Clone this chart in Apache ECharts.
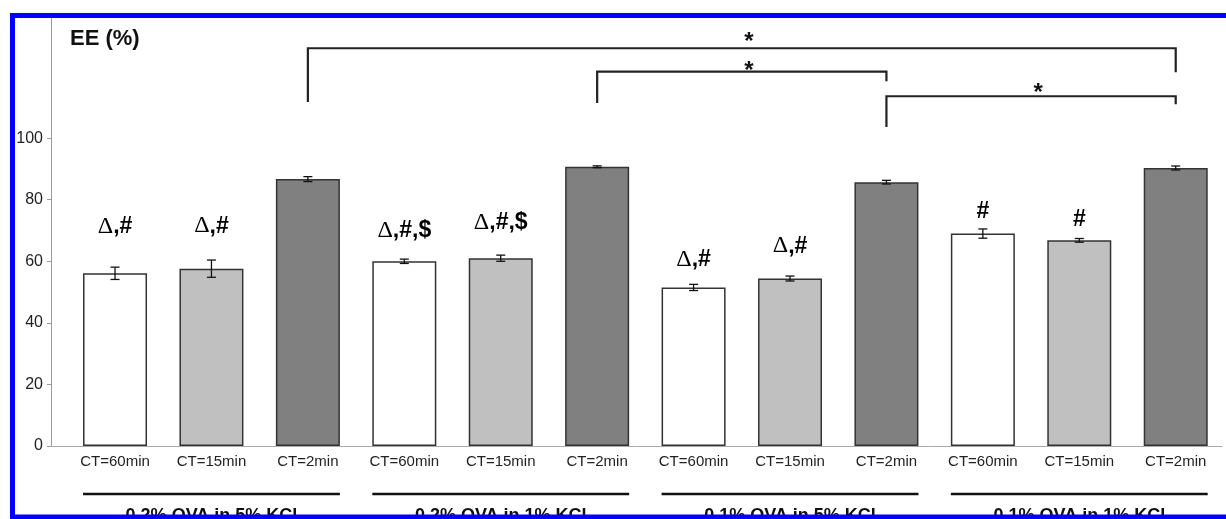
<!DOCTYPE html>
<html>
<head>
<meta charset="utf-8">
<script src="https://cdn.jsdelivr.net/npm/echarts@6/dist/echarts.min.js"></script>
<style>
html,body{margin:0;padding:0;background:#fff;}
#chart{width:1226px;height:519px;}
</style>
</head>
<body>
<div id="chart"></div>
<script>
// ---- data ----
const categories = ['CT=60min','CT=15min','CT=2min','CT=60min','CT=15min','CT=2min','CT=60min','CT=15min','CT=2min','CT=60min','CT=15min','CT=2min'];
const groups = ['0.2% OVA in 5% KCl','0.2% OVA in 1% KCl','0.1% OVA in 5% KCl','0.1% OVA in 1% KCl'];
const values = [56.1, 57.6, 86.7, 60.0, 61.0, 90.7, 51.5, 54.4, 85.7, 69.0, 66.8, 90.3];
const errors = [2.0, 2.8, 0.8, 0.7, 1.0, 0.3, 1.0, 0.8, 0.6, 1.5, 0.6, 0.65];
const annotations = ['Δ,#','Δ,#','','Δ,#,$','Δ,#,$','','Δ,#','Δ,#','','#','#',''];
const annotationY = [71.1, 71.4, null, 69.8, 72.4, null, 60.4, 64.9, null, 76.0, 73.4, null];
const yTicks = [0, 20, 40, 60, 80, 100];
// significance brackets
const bracketFrom = [2, 5, 8];
const bracketTo = [11, 8, 11];
const bracketLine = [129.2, 121.6, 113.6];
const bracketLeftEnd = [111.7, 111.4, 103.6];
const bracketRightEnd = [121.4, 118.5, 111.0];
const bracketStarY = [133.4, 124.0, 116.9];

const barColors = ['#ffffff', '#c0c0c0', '#808080'];
const FONT = 'Liberation Sans, Arial, sans-serif';

const chart = echarts.init(document.getElementById('chart'), null, {renderer: 'canvas'});

const barData = values.map((v, i) => ({value: [i, v], itemStyle: {color: barColors[i % 3]}}));
const errData = values.map((v, i) => [i, v, errors[i]]);
const annData = [];
annotations.forEach((t, i) => { if (t) annData.push([i, annotationY[i], t]); });
const bracketData = bracketFrom.map((f, k) => [f, bracketTo[k], bracketLine[k], bracketLeftEnd[k], bracketRightEnd[k], bracketStarY[k]]);
const groupData = groups.map((g, k) => [k * 3, k * 3 + 2, g]);

function richFor(t) {
  if (t.indexOf('Δ') === 0) return '{d|Δ}{b|' + t.slice(1) + '}';
  return '{b|' + t + '}';
}

const option = {
  animation: false,
  backgroundColor: '#ffffff',
  title: {
    text: 'EE (%)', left: 65, top: 23,
    textStyle: {fontFamily: FONT, fontSize: 22, fontWeight: 'bold', color: '#111'}
  },
  grid: {left: 51, right: 4, top: 15, bottom: 73},
  xAxis: {
    type: 'value', min: -0.664, max: 11.48,
    axisLine: {show: true, onZero: false, lineStyle: {color: '#aaaaaa', width: 1}},
    axisTick: {show: false},
    splitLine: {show: false},
    axisLabel: {
      customValues: categories.map((c, i) => i),
      formatter: v => categories[Math.round(v)] || '',
      fontFamily: FONT, fontSize: 15, color: '#222', margin: 8
    }
  },
  yAxis: {
    type: 'value', min: 0, max: 140,
    axisLine: {show: true, onZero: false, lineStyle: {color: '#999999', width: 1}},
    axisTick: {show: true, inside: false, length: 4, customValues: yTicks, lineStyle: {color: '#999999'}},
    splitLine: {show: false},
    axisLabel: {customValues: yTicks, fontFamily: FONT, fontSize: 16, color: '#222', margin: 8}
  },
  series: [
    {
      type: 'bar', data: barData, barWidth: 64,
      itemStyle: {borderColor: '#333', borderWidth: 1.5},
      z: 2
    },
    {
      type: 'custom', data: errData, encode: {x: 0, y: 1}, z: 5,
      renderItem: (params, api) => {
        const i = api.value(0), v = api.value(1), e = api.value(2);
        const t = api.coord([i, v + e]), b = api.coord([i, v - e]);
        const hw = 4.5;
        const st = {stroke: '#111', lineWidth: 1.3, fill: null};
        return {type: 'group', children: [
          {type: 'line', shape: {x1: t[0], y1: t[1], x2: b[0], y2: b[1]}, style: st},
          {type: 'line', shape: {x1: t[0] - hw, y1: t[1], x2: t[0] + hw, y2: t[1]}, style: st},
          {type: 'line', shape: {x1: b[0] - hw, y1: b[1], x2: b[0] + hw, y2: b[1]}, style: st}
        ]};
      }
    },
    {
      type: 'custom', data: annData, encode: {x: 0, y: 1}, z: 6,
      renderItem: (params, api) => {
        const p = api.coord([api.value(0), api.value(1)]);
        const t = annData[params.dataIndex][2];
        return {type: 'text', x: p[0], y: p[1], style: {
          text: richFor(t), align: 'center', verticalAlign: 'middle',
          rich: {
            d: {fontFamily: 'Liberation Serif, Times New Roman, serif', fontSize: 24, color: '#111'},
            b: {fontFamily: FONT, fontSize: 23, fontWeight: 'bold', color: '#111'}
          }
        }};
      }
    },
    {
      type: 'custom', data: bracketData, encode: {x: 0, y: 2}, z: 6, clip: false,
      renderItem: (params, api) => {
        const f = api.value(0), t = api.value(1), yl = api.value(2), yle = api.value(3), yre = api.value(4), ys = api.value(5);
        const a = api.coord([f, yle]), b = api.coord([f, yl]), c = api.coord([t, yl]), d = api.coord([t, yre]);
        const s = api.coord([(f + t) / 2, ys]);
        return {type: 'group', children: [
          {type: 'polyline', shape: {points: [a, b, c, d]}, style: {stroke: '#222', lineWidth: 2.2, fill: null}},
          {type: 'text', x: s[0] + 7, y: s[1] + 7, style: {text: '*', align: 'center', verticalAlign: 'middle',
            fontFamily: FONT, fontSize: 24, fontWeight: 'bold', fill: '#111'}}
        ]};
      }
    },
    {
      type: 'custom', data: groupData, encode: {x: 0}, z: 6, clip: false,
      renderItem: (params, api) => {
        const a = api.coord([api.value(0), 0]), b = api.coord([api.value(1), 0]);
        const y = a[1] + 48;
        const label = groupData[params.dataIndex][2];
        return {type: 'group', children: [
          {type: 'line', shape: {x1: a[0] - 32, y1: y, x2: b[0] + 32, y2: y}, style: {stroke: '#111', lineWidth: 2.5}},
          {type: 'text', x: (a[0] + b[0]) / 2, y: y + 22, style: {text: label, align: 'center', verticalAlign: 'middle',
            fontFamily: FONT, fontSize: 18, fontWeight: 'bold', fill: '#111'}}
        ]};
      }
    }
  ],
  graphic: [
    {type: 'polyline', z: 100, shape: {points: [[1230, 15.5], [12.5, 15.5], [12.5, 517], [1230, 517]]},
      style: {stroke: '#0000ff', lineWidth: 5, fill: null}}
  ]
};
chart.setOption(option);
</script>
</body>
</html>
